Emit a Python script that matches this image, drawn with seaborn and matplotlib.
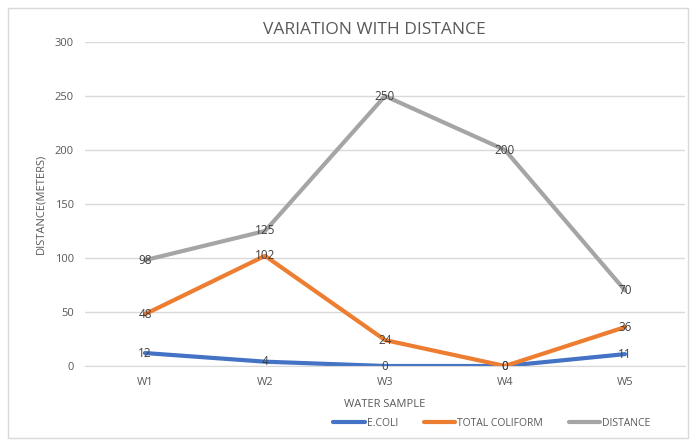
import matplotlib
matplotlib.use("Agg")
import matplotlib.pyplot as plt
import seaborn as sns
import pandas as pd
from matplotlib.patches import Rectangle

samples = ["W1", "W2", "W3", "W4", "W5"]
ecoli = [12, 4, 0, 0, 11]
total_coliform = [48, 102, 24, 0, 36]
distance = [98, 125, 250, 200, 70]
series_names = ["E.COLI", "TOTAL COLIFORM", "DISTANCE"]
colors = ["#4472C4", "#ED7D31", "#A5A5A5"]

df = pd.DataFrame({
    "sample": samples * 3,
    "value": ecoli + total_coliform + distance,
    "series": [series_names[0]] * 5 + [series_names[1]] * 5 + [series_names[2]] * 5,
})

sns.set_style("white")
plt.rcParams["font.family"] = ["Open Sans", "DejaVu Sans"]

fig = plt.figure(figsize=(6.91, 4.41), dpi=100)
ax = fig.add_axes([85 / 691, 1 - 366 / 441, 600 / 691, 324 / 441])

sns.lineplot(data=df, x="sample", y="value", hue="series", palette=colors,
             hue_order=series_names, linewidth=3, ax=ax, sort=False, legend=True)

ax.set_xlim(-0.5, 4.5)
ax.set_ylim(0, 300)
ax.set_yticks(range(0, 301, 50))
ax.yaxis.grid(True, color="#D9D9D9", linewidth=1)
ax.set_axisbelow(True)
for s in ["top", "right", "left"]:
    ax.spines[s].set_visible(False)
ax.spines["bottom"].set_color("#D9D9D9")
ax.tick_params(axis="both", length=0, labelsize=8, labelcolor="#595959", pad=8)

for vals in [ecoli, total_coliform, distance]:
    for i, v in enumerate(vals):
        ax.text(i, v, str(v), ha="center", va="center", fontsize=8.5, color="#404040")

ax.set_xlabel("WATER SAMPLE", fontsize=8, color="#595959", labelpad=8)
ax.set_ylabel("DISTANCE(METERS)", fontsize=8, color="#595959", labelpad=6)
fig.text(0.5 * (85 + 685) / 691 - 0.015, 1 - 30 / 441, "VARIATION WITH DISTANCE",
         ha="center", va="center", fontsize=12.5, color="#595959")

handles, labels = ax.get_legend_handles_labels()
ax.legend(handles, labels, loc="center", bbox_to_anchor=(492 / 691, 1 - 423 / 441),
          bbox_transform=fig.transFigure, ncol=3, frameon=False, fontsize=7.5,
          labelcolor="#595959", handlelength=3, handletextpad=0.2, columnspacing=2.5)

fig.patches.append(Rectangle((8 / 691, 3 / 441), 680 / 691, 430 / 441,
                             transform=fig.transFigure, fill=False,
                             edgecolor="#D9D9D9", linewidth=1))

fig.savefig("out.png", dpi=100)
